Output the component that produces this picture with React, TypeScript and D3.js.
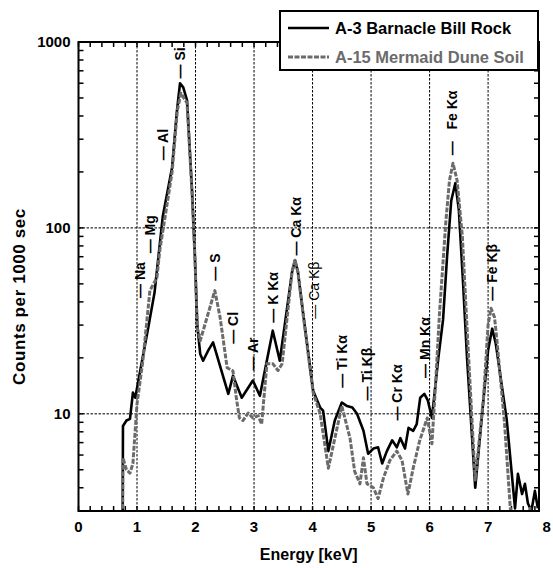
import React from "react";
import * as d3 from "d3";

// A-3 Barnacle Bill Rock (black, solid)
const rockEnergy = [
  0.75, 0.76, 0.82, 0.88, 0.93, 0.97, 1.07, 1.2, 1.3, 1.44, 1.6, 1.68, 1.735, 1.79, 1.855, 1.94,
  1.99, 2.03, 2.08, 2.13, 2.22, 2.3, 2.56, 2.64, 2.79, 2.98, 3.1, 3.32, 3.44, 3.65, 3.7, 3.75,
  3.84, 4.01, 4.13, 4.18, 4.27, 4.38, 4.5, 4.59, 4.68, 4.76, 4.87, 4.95, 5.04, 5.12, 5.19, 5.27,
  5.36, 5.44, 5.5, 5.58, 5.64, 5.72, 5.78, 5.84, 5.91, 5.97, 6.04, 6.15, 6.23, 6.3, 6.37, 6.44,
  6.5, 6.57, 6.64, 6.78, 7.0, 7.07, 7.13, 7.32, 7.46, 7.51, 7.58, 7.63, 7.68, 7.74, 7.8, 7.85,
];
const rockCounts = [
  1, 8.6, 9.2, 9.4, 13, 12.2, 18.1, 30, 45, 115, 212, 420, 600, 570, 486, 159,
  69, 30, 21, 19.3, 22, 24.2, 12.8, 16, 12.2, 15.1, 12.5, 28, 19.3, 58, 66.9, 58,
  34.6, 13.3, 10.8, 10.4, 6.3, 9.2, 11.5, 11, 10.8, 10, 8.1, 6.1, 6.5, 6.6, 5.4, 6.3,
  7.2, 6.6, 7.4, 6.5, 8.4, 8.1, 8.8, 12.2, 12.8, 11.8, 9.5, 20, 32, 71, 140, 174,
  125, 52, 20, 4, 22, 28.7, 24, 9.2, 3.1, 4.75, 3.7, 4.2, 3.3, 3.0, 3.85, 3.1,
];

// A-15 Mermaid Dune Soil (gray, dashed)
const soilEnergy = [
  0.75, 0.76, 0.82, 0.88, 0.93, 1.0, 1.1, 1.22, 1.34, 1.39, 1.48, 1.6, 1.69, 1.75, 1.8, 1.855,
  1.94, 1.99, 2.03, 2.08, 2.33, 2.42, 2.54, 2.64, 2.7, 2.75, 2.81, 2.9, 2.98, 3.07, 3.13, 3.22,
  3.32, 3.41, 3.48, 3.65, 3.7, 3.75, 3.84, 4.01, 4.13, 4.27, 4.5, 4.64, 4.72, 4.81, 4.87, 4.93,
  5.04, 5.12, 5.21, 5.32, 5.44, 5.53, 5.63, 5.72, 5.83, 5.96, 6.04, 6.1, 6.17, 6.28, 6.34, 6.4,
  6.47, 6.56, 6.64, 6.78, 6.92, 7.0, 7.05, 7.11, 7.15, 7.28, 7.38, 7.45, 7.6, 7.72, 7.8,
];
const soilCounts = [
  1, 5.8, 5.0, 4.8, 5.4, 11.3, 19.3, 46, 54, 76, 115, 200, 430, 531, 500, 470,
  155, 69, 29, 24.7, 46, 33, 17.7, 17, 12, 9.5, 9.2, 10.1, 9.5, 9.75, 8.8, 18.6,
  18.6, 17.1, 18.6, 58, 67, 58, 34, 13, 10, 5.1, 11, 7.4, 4.9, 4.2, 5.8, 4.2,
  4.0, 3.5, 4.5, 5.6, 6.3, 5.6, 3.7, 5.1, 7.15, 9.5, 6.9, 14, 35, 110, 180, 223,
  180, 90, 29, 4.4, 12, 30, 37, 33, 25, 9, 3.1, 2.5, 2.4, 3.1, 2.5,
];

const xTicks = [0, 1, 2, 3, 4, 5, 6, 7, 8];
const yTicks = [10, 100, 1000];

// element line labels: name, energy, count at label start
const peakNames = [
  "Na", "Mg", "Al", "Si", "S", "Cl", "Ar", "K Kα", "Ca Kα", "Ca Kβ",
  "Ti Kα", "Ti Kβ", "Cr Kα", "Mn Kα", "Fe Kα", "Fe Kβ",
];
const peakEnergy = [1.05, 1.22, 1.44, 1.735, 2.33, 2.64, 2.98, 3.32, 3.72, 4.03, 4.5, 4.93, 5.44, 5.92, 6.38, 7.07];
const peakCounts = [42, 73, 231, 637, 52, 23.8, 17.1, 30.9, 71, 32.5, 13.8, 11.8, 9.2, 15.6, 246, 40.6];

const seriesNames = ["A-3 Barnacle Bill Rock", "A-15 Mermaid Dune Soil"];

const W = 553,
  H = 568,
  marginLeft = 78.5,
  marginRight = 14,
  marginTop = 42,
  marginBottom = 57;

const font = "'Liberation Sans', Arial, Helvetica, sans-serif";

export default function App() {
  const x = d3.scaleLinear().domain([0, 7.87]).range([marginLeft, W - marginRight]);
  const y = d3.scaleLog().domain([3, 1000]).range([H - marginBottom, marginTop]);

  const line = d3
    .line<[number, number]>()
    .x((d) => x(d[0]))
    .y((d) => y(Math.max(d[1], 0.5)));

  const rock = rockEnergy.map((e, i) => [e, rockCounts[i]] as [number, number]);
  const soil = soilEnergy.map((e, i) => [e, soilCounts[i]] as [number, number]);

  const xMinor = d3.range(0, 7.87, 0.2);
  const yMinor = y.ticks().filter((t) => t > 3 && t < 1000);

  const [x0, x1] = x.range();
  const [y0, y1] = y.range(); // y0 bottom, y1 top

  return (
    <svg
      width={W}
      height={H}
      style={{ position: "absolute", left: 0, top: 0, background: "#fff" }}
      fontFamily={font}
    >
      <defs>
        <clipPath id="plot">
          <rect x={x0} y={y1} width={x1 - x0} height={y0 - y1} />
        </clipPath>
      </defs>

      {/* grid */}
      <g stroke="#000" strokeWidth={1} strokeDasharray="2.5,1.5">
        {xTicks
          .filter((t) => t > 0 && t < 7.87)
          .map((t) => (
            <line key={t} x1={x(t)} x2={x(t)} y1={y1} y2={y0} />
          ))}
        {yTicks
          .filter((t) => t < 1000)
          .map((t) => (
            <line key={t} x1={x0} x2={x1} y1={y(t)} y2={y(t)} />
          ))}
      </g>

      {/* minor ticks */}
      <g stroke="#000" strokeWidth={1.5}>
        {xMinor.map((t) => (
          <g key={t}>
            <line x1={x(t)} x2={x(t)} y1={y0} y2={y0 - 5} />
            <line x1={x(t)} x2={x(t)} y1={y1} y2={y1 + 5} />
          </g>
        ))}
        {yMinor.map((t) => (
          <g key={t}>
            <line x1={x0} x2={x0 + 5} y1={y(t)} y2={y(t)} />
            <line x1={x1} x2={x1 - 5} y1={y(t)} y2={y(t)} />
          </g>
        ))}
      </g>

      {/* series */}
      <g clipPath="url(#plot)" fill="none" strokeLinejoin="round">
        <path d={line(rock) || ""} stroke="#000" strokeWidth={2.6} />
        <path d={line(soil) || ""} stroke="#6b6b6b" strokeWidth={3} strokeDasharray="5,1.5" />
      </g>

      {/* frame */}
      <rect x={x0} y={y1} width={x1 - x0} height={y0 - y1} fill="none" stroke="#000" strokeWidth={2} />

      {/* peak labels */}
      <g fontSize={14} fontWeight="bold" fill="#000">
        {peakNames.map((n, i) => (
          <text
            key={n}
            transform={`translate(${x(peakEnergy[i])},${y(peakCounts[i])}) rotate(-90)`}
            dy="0.35em"
            fontWeight={n === "Ca Kβ" ? "normal" : "bold"}
          >
            {n === "Fe Kα" ? "—\u00a0\u00a0\u00a0" + n : "— " + n}
          </text>
        ))}
      </g>

      {/* tick labels */}
      <g fontSize={15} fontWeight="bold" fill="#000">
        {xTicks.map((t) => (
          <text key={t} x={x(t)} y={y0 + 21} textAnchor="middle">
            {t}
          </text>
        ))}
        {yTicks.map((t) => (
          <text key={t} x={x0 - 8} y={y(t)} dy="0.35em" textAnchor="end">
            {t}
          </text>
        ))}
      </g>

      {/* axis titles */}
      <text x={(x0 + x1) / 2} y={H - 8} textAnchor="middle" fontSize={16} fontWeight="bold">
        Energy [keV]
      </text>
      <text
        transform={`translate(19,${(y0 + y1) / 2 + 20}) rotate(-90)`}
        dy="0.35em"
        textAnchor="middle"
        fontSize={17}
        fontWeight="bold"
        letterSpacing={0.6}
      >
        Counts per 1000 sec
      </text>

      {/* legend */}
      <g>
        <rect x={280} y={11} width={258} height={59} fill="#fff" stroke="#000" strokeWidth={2} />
        <line x1={288} x2={329} y1={28} y2={28} stroke="#000" strokeWidth={2.6} />
        <text x={335} y={28} dy="0.35em" fontSize={16.5} fontWeight="bold" fill="#000">
          {seriesNames[0]}
        </text>
        <line x1={288} x2={329} y1={57} y2={57} stroke="#6b6b6b" strokeWidth={3} strokeDasharray="5,1.5" />
        <text x={335} y={57} dy="0.35em" fontSize={16.5} fontWeight="bold" fill="#6b6b6b">
          {seriesNames[1]}
        </text>
      </g>
    </svg>
  );
}
